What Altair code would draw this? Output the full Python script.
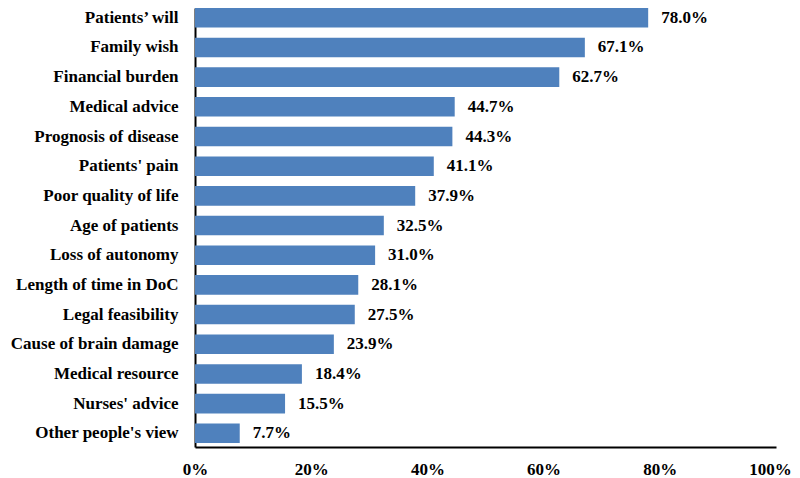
import altair as alt
import pandas as pd

categories = [
    "Patients\u2019 will", "Family wish", "Financial burden", "Medical advice",
    "Prognosis of disease", "Patients' pain", "Poor quality of life",
    "Age of patients", "Loss of autonomy", "Length of time in DoC",
    "Legal feasibility", "Cause of brain damage", "Medical resource",
    "Nurses' advice", "Other people's view",
]
values = [78.0, 67.1, 62.7, 44.7, 44.3, 41.1, 37.9, 32.5, 31.0, 28.1, 27.5, 23.9, 18.4, 15.5, 7.7]
x_ticks = [0, 20, 40, 60, 80, 100]

df = pd.DataFrame({"factor": categories, "pct": values})
df["label"] = [f"{v:.1f}%" for v in values]

FONT = "Liberation Serif"
FS = 17

y_enc = alt.Y(
    "factor:N", sort=categories, title=None,
    scale=alt.Scale(paddingInner=0.34, paddingOuter=0.066, align=0),
    axis=alt.Axis(labelFont=FONT, labelFontSize=FS, labelFontWeight="bold",
                  labelColor="black", labelPadding=17, ticks=False,
                  domainColor="black", domainWidth=2, labelLimit=300),
)
x_enc = alt.X(
    "pct:Q", title=None,
    scale=alt.Scale(domain=[0, 100], nice=False),
    axis=alt.Axis(values=x_ticks, labelExpr="datum.value + '%'", grid=False,
                  ticks=False, labelFont=FONT, labelFontSize=FS,
                  labelFontWeight="bold", labelColor="black", labelPadding=14,
                  domainColor="black", domainWidth=2, labelFlush=False,
                  labelOffset={"condition": {"test": "datum.value == 100", "value": -6},
                               "value": 0}),
)

bars = alt.Chart(df).mark_bar(color="#4F81BD").encode(x=x_enc, y=y_enc)
text = alt.Chart(df).mark_text(
    align="left", baseline="middle", dx=13, font=FONT, fontSize=FS,
    fontWeight="bold", color="black",
).encode(x="pct:Q", y=alt.Y("factor:N", sort=categories), text="label:N")

chart = (bars + text).properties(
    width=581, height=439,
    background="white",
    autosize=alt.AutoSizeParams(type="none"),
    padding={"left": 187, "top": 0, "right": 16, "bottom": 31},
).configure_view(stroke=None)

chart.save("out.html", embed_options={"renderer": "svg", "actions": False})
